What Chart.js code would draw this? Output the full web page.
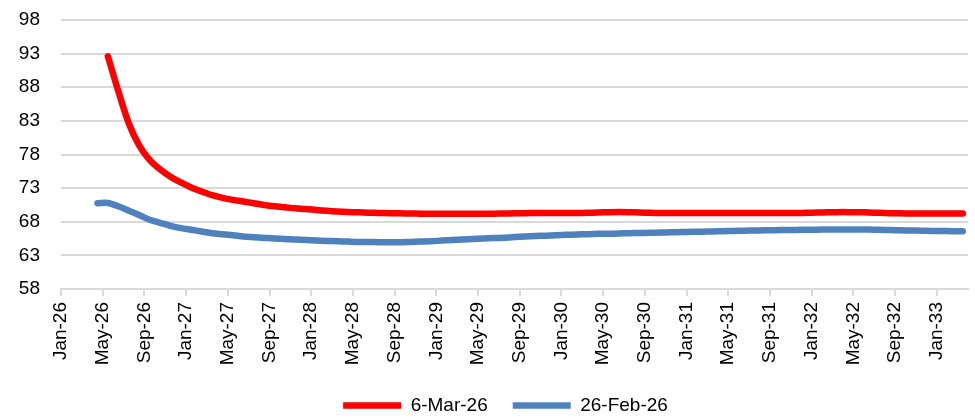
<!DOCTYPE html>
<html>
<head>
<meta charset="utf-8">
<script src="https://cdn.jsdelivr.net/npm/chart.js@4/dist/chart.umd.min.js"></script>
<style>
  html, body { margin: 0; padding: 0; background: #fff; overflow: hidden; }
  #wrap { width: 975px; height: 425px; }
</style>
</head>
<body>
<div id="wrap"><canvas id="c" width="975" height="425"></canvas></div>
<script>
// Monthly categories (full x range of the axis)
const months = [
  'Jan-26','Feb-26','Mar-26','Apr-26','May-26','Jun-26','Jul-26','Aug-26','Sep-26','Oct-26','Nov-26','Dec-26',
  'Jan-27','Feb-27','Mar-27','Apr-27','May-27','Jun-27','Jul-27','Aug-27','Sep-27','Oct-27','Nov-27','Dec-27',
  'Jan-28','Feb-28','Mar-28','Apr-28','May-28','Jun-28','Jul-28','Aug-28','Sep-28','Oct-28','Nov-28','Dec-28',
  'Jan-29','Feb-29','Mar-29','Apr-29','May-29','Jun-29','Jul-29','Aug-29','Sep-29','Oct-29','Nov-29','Dec-29',
  'Jan-30','Feb-30','Mar-30','Apr-30','May-30','Jun-30','Jul-30','Aug-30','Sep-30','Oct-30','Nov-30','Dec-30',
  'Jan-31','Feb-31','Mar-31','Apr-31','May-31','Jun-31','Jul-31','Aug-31','Sep-31','Oct-31','Nov-31','Dec-31',
  'Jan-32','Feb-32','Mar-32','Apr-32','May-32','Jun-32','Jul-32','Aug-32','Sep-32','Oct-32','Nov-32','Dec-32',
  'Jan-33','Feb-33','Mar-33'
];

// X tick labels (every 4 months)
const tickLabels = [
  'Jan-26','May-26','Sep-26','Jan-27','May-27','Sep-27','Jan-28','May-28','Sep-28','Jan-29','May-29',
  'Sep-29','Jan-30','May-30','Sep-30','Jan-31','May-31','Sep-31','Jan-32','May-32','Sep-32','Jan-33'
];

// Y tick values
const yTicks = [58, 63, 68, 73, 78, 83, 88, 93, 98];

// Series: 6-Mar-26 curve (starts May-26)
const series1Name = '6-Mar-26';
const series1Start = 'May-26';
const series1 = [
  92.6, 87.4, 82.65, 79.35, 77.2, 75.8, 74.7, 73.85, 73.1, 72.5,
  71.95, 71.55, 71.25, 71.0, 70.75, 70.5, 70.3, 70.15, 70.0, 69.9,
  69.75, 69.62, 69.52, 69.45, 69.4, 69.35, 69.3, 69.27, 69.25, 69.22,
  69.2, 69.2, 69.2, 69.2, 69.2, 69.2, 69.2, 69.2, 69.22, 69.25,
  69.27, 69.3, 69.3, 69.3, 69.3, 69.3, 69.33, 69.38, 69.42, 69.45,
  69.43, 69.38, 69.33, 69.3, 69.3, 69.3, 69.3, 69.3, 69.3, 69.3,
  69.3, 69.3, 69.3, 69.3, 69.3, 69.3, 69.3, 69.32, 69.36, 69.4,
  69.43, 69.43, 69.42, 69.38, 69.33, 69.28, 69.25, 69.22, 69.22, 69.22,
  69.22, 69.22, 69.22
];

// Series: 26-Feb-26 curve (starts Apr-26)
const series2Name = '26-Feb-26';
const series2Start = 'Apr-26';
const series2 = [
  70.75, 70.8, 70.3, 69.65, 69.0, 68.3, 67.85, 67.4, 67.05, 66.8,
  66.55, 66.3, 66.15, 66.0, 65.8, 65.7, 65.6, 65.5, 65.45, 65.35,
  65.28, 65.2, 65.15, 65.1, 65.05, 65.0, 65.0, 64.95, 64.95, 64.95,
  65.0, 65.05, 65.1, 65.2, 65.28, 65.35, 65.42, 65.5, 65.57, 65.63,
  65.72, 65.8, 65.87, 65.93, 66.0, 66.05, 66.1, 66.15, 66.2, 66.22,
  66.25, 66.3, 66.33, 66.36, 66.4, 66.43, 66.46, 66.5, 66.53, 66.56,
  66.6, 66.63, 66.66, 66.7, 66.72, 66.75, 66.77, 66.79, 66.8, 66.82,
  66.84, 66.85, 66.85, 66.85, 66.84, 66.8, 66.76, 66.72, 66.7, 66.67,
  66.64, 66.62, 66.6, 66.6
];

// Points sit at mid-month on a month-index axis
function toPoints(startLabel, values) {
  const s = months.indexOf(startLabel);
  return values.map((v, k) => ({ x: s + k + 0.5, y: v }));
}

const FONT = "'Liberation Sans', Arial, sans-serif";
const FS = 19;
Chart.defaults.font.family = FONT;
Chart.defaults.font.size = FS;
Chart.defaults.color = '#000';

const GRID = '#d9d9d9';

// Nudge the bottom legend slightly left, as in the original layout
const legendShift = {
  id: 'legendShift',
  afterLayout(chart) {
    if (chart.legend) { chart.legend.left -= 9; chart.legend.right -= 9; }
  }
};

new Chart(document.getElementById('c'), {
  type: 'line',
  data: {
    datasets: [
      {
        label: series1Name,
        data: toPoints(series1Start, series1),
        borderColor: '#ff0000',
        backgroundColor: '#ff0000',
        borderWidth: 6.5,
        borderCapStyle: 'round',
        borderJoinStyle: 'round',
        pointRadius: 0,
        tension: 0.3,
        fill: false
      },
      {
        label: series2Name,
        data: toPoints(series2Start, series2),
        borderColor: '#4f81bd',
        backgroundColor: '#4f81bd',
        borderWidth: 6.5,
        borderCapStyle: 'round',
        borderJoinStyle: 'round',
        pointRadius: 0,
        tension: 0.3,
        fill: false
      }
    ]
  },
  plugins: [legendShift],
  options: {
    responsive: false,
    animation: false,
    devicePixelRatio: 1,
    layout: { padding: { top: 20, left: 0, right: 7, bottom: 0 } },
    plugins: {
      tooltip: { enabled: false },
      legend: {
        position: 'bottom',
        align: 'center',
        fullSize: false,
        labels: {
          usePointStyle: true,
          pointStyle: 'line',
          pointStyleWidth: 58,
          padding: 25,
          color: '#000',
          font: { size: FS, family: FONT }
        }
      }
    },
    scales: {
      x: {
        type: 'linear',
        min: 0,
        max: months.length,
        grid: {
          drawOnChartArea: false,
          drawTicks: true,
          tickLength: 7,
          color: GRID,
          lineWidth: 2
        },
        border: { display: true, color: GRID, width: 2 },
        ticks: {
          stepSize: 4,
          includeBounds: false,
          autoSkip: false,
          minRotation: 90,
          maxRotation: 90,
          padding: 6,
          font: { size: FS, family: FONT },
          color: '#000',
          callback: (v) => tickLabels[v / 4] ?? ''
        },
        afterFit: (s) => { s.paddingLeft = 0; s.paddingRight = 0; s.height = 82; }
      },
      y: {
        min: yTicks[0],
        max: yTicks[yTicks.length - 1],
        afterBuildTicks: (s) => { s.ticks = yTicks.map(v => ({ value: v })); },
        grid: { color: GRID, lineWidth: 2, drawTicks: false },
        border: { display: false },
        ticks: {
          padding: 21,
          font: { size: FS, family: FONT },
          color: '#000'
        },
        afterFit: (s) => { s.width = 61; s.paddingTop = 0; s.paddingBottom = 0; }
      }
    }
  }
});
</script>
</body>
</html>
